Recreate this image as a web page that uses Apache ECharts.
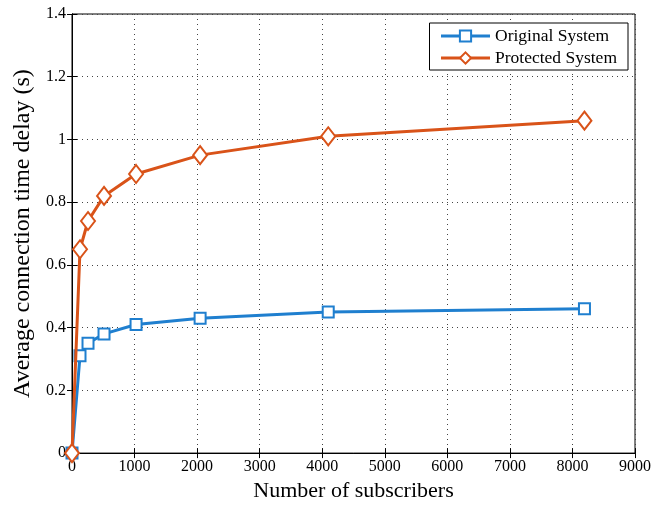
<!DOCTYPE html>
<html><head><meta charset="utf-8">
<script src="https://cdn.jsdelivr.net/npm/echarts@6/dist/echarts.min.js"></script>
<style>html,body{margin:0;padding:0;background:#fff}#c{width:668px;height:507px}</style>
</head><body><div id="c"></div>
<script>
const subscribers = [0, 128, 256, 512, 1024, 2048, 4096, 8192];
const originalSystem = [0, 0.31, 0.35, 0.38, 0.41, 0.43, 0.45, 0.46];
const protectedSystem = [0, 0.65, 0.74, 0.82, 0.89, 0.95, 1.01, 1.06];
const seriesNames = ['Original System', 'Protected System'];
const xTitle = 'Number of subscribers';
const yTitle = 'Average connection time delay (s)';

const font = 'Liberation Serif';
const pair = (xs, ys) => xs.map((x, i) => [x, ys[i]]);
const chart = echarts.init(document.getElementById('c'));
const axisLine = {show: true, lineStyle: {color: '#000', width: 1}};
const split = {show: true, lineStyle: {color: '#444', type: [1, 4], width: 1}};
chart.setOption({
  animation: false,
  backgroundColor: '#fff',
  grid: {left: 72, right: 33, top: 14, bottom: 50, show: true, borderColor: '#000', borderWidth: 1},
  legend: {
    right: 40, top: 23, orient: 'vertical', itemWidth: 49, itemHeight: 14, itemGap: 4,
    borderColor: '#000', borderWidth: 1, padding: [4, 11, 3, 10], backgroundColor: '#fff',
    lineStyle: {width: 3},
    itemStyle: {borderWidth: 2.5},
    textStyle: {fontFamily: font, fontSize: 17.5, color: '#000'},
    data: seriesNames
  },
  xAxis: [{
    type: 'value', min: 0, max: 9000, interval: 1000, position: 'bottom',
    name: xTitle, nameLocation: 'middle', nameGap: 24,
    nameTextStyle: {fontFamily: font, fontSize: 22, color: '#000'},
    axisLine: axisLine, axisTick: {show: true, inside: true, length: 5, lineStyle: {color: '#000'}},
    axisLabel: {fontFamily: font, fontSize: 16, color: '#000', margin: 6, formatter: v => String(v)},
    splitLine: split
  }, {
    type: 'value', min: 0, max: 9000, interval: 1000, position: 'top',
    axisLine: axisLine, axisTick: {show: true, inside: true, length: 5, lineStyle: {color: '#000'}},
    axisLabel: {show: false}, splitLine: {show: false}
  }],
  yAxis: [{
    type: 'value', min: 0, max: 1.4, interval: 0.2, position: 'left',
    name: yTitle, nameLocation: 'middle', nameGap: 33,
    nameTextStyle: {fontFamily: font, fontSize: 24, color: '#000'},
    axisLine: axisLine, axisTick: {show: true, inside: true, length: 5, lineStyle: {color: '#000'}},
    axisLabel: {fontFamily: font, fontSize: 16, color: '#000', margin: 6},
    splitLine: split
  }, {
    type: 'value', min: 0, max: 1.4, interval: 0.2, position: 'right',
    axisLine: axisLine, axisTick: {show: true, inside: true, length: 5, lineStyle: {color: '#000'}},
    axisLabel: {show: false}, splitLine: {show: false}
  }],
  series: [{
    name: seriesNames[0], type: 'line', data: pair(subscribers, originalSystem),
    symbol: 'emptyRect', symbolSize: 11, color: '#1f7fcf',
    lineStyle: {width: 3, color: '#1f7fcf'}, itemStyle: {borderWidth: 2.5, color: '#1f7fcf'}, z: 3
  }, {
    name: seriesNames[1], type: 'line', data: pair(subscribers, protectedSystem),
    symbol: 'emptyDiamond', symbolSize: [14, 18], color: '#d95319',
    lineStyle: {width: 3, color: '#d95319'}, itemStyle: {borderWidth: 2.5, color: '#d95319'}, z: 4
  }]
});
</script></body></html>
